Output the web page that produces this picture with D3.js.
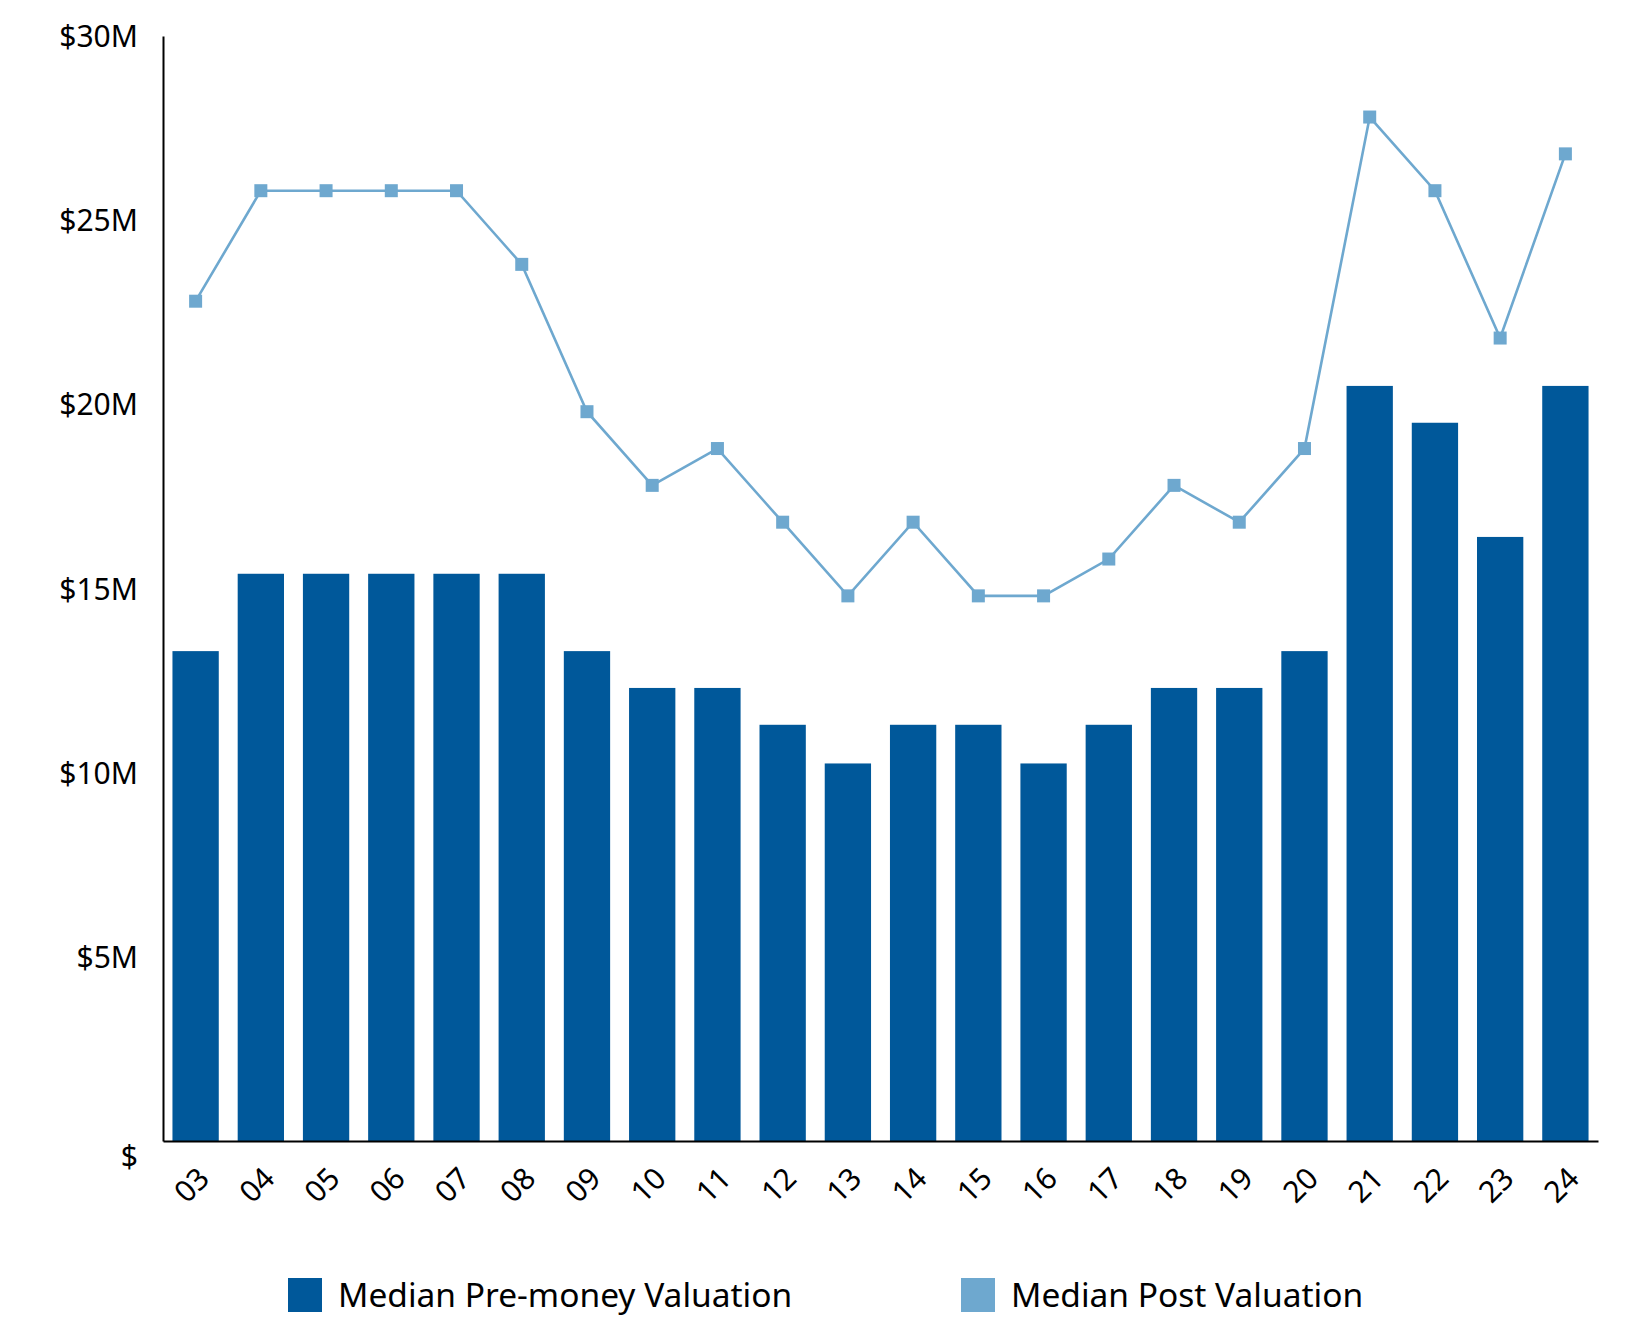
<!DOCTYPE html>
<html>
<head>
<meta charset="utf-8">
<script src="https://cdn.jsdelivr.net/npm/d3@7"></script>
<style>
  body { margin: 0; background: #fff; }
  text { font-family: "Noto Sans", "Open Sans", sans-serif; fill: #000; }
</style>
</head>
<body>
<script>
// values in $M
const years = ["03","04","05","06","07","08","09","10","11","12","13",
               "14","15","16","17","18","19","20","21","22","23","24"];
const preMoney = [13.3, 15.4, 15.4, 15.4, 15.4, 15.4, 13.3, 12.3, 12.3, 11.3, 10.25,
                  11.3, 11.3, 10.25, 11.3, 12.3, 12.3, 13.3, 20.5, 19.5, 16.4, 20.5];
const postValuation = [22.8, 25.8, 25.8, 25.8, 25.8, 23.8, 19.8, 17.8, 18.8, 16.8, 14.8,
                       16.8, 14.8, 14.8, 15.8, 17.8, 16.8, 18.8, 27.8, 25.8, 21.8, 26.8];
const yTicks = [0, 5, 10, 15, 20, 25, 30];
const yTickLabels = ["$", "$5M", "$10M", "$15M", "$20M", "$25M", "$30M"];
const seriesNames = ["Median Pre-money Valuation", "Median Post Valuation"];

const barColor = "#00589a";
const lineColor = "#6ea8cf";

const width = 1650, height = 1333;
const plotLeft = 163, plotRight = 1598, plotTop = 36, plotBottom = 1141;

const svg = d3.select("body").append("svg")
    .attr("width", width)
    .attr("height", height);

const x = d3.scaleBand()
    .domain(years)
    .range([plotLeft, plotRight])
    .paddingInner(0.29)
    .paddingOuter(0.145);

const y = d3.scaleLinear()
    .domain([0, 30])
    .range([plotBottom, plotTop]);

// bars
svg.append("g").selectAll("rect")
  .data(preMoney)
  .join("rect")
    .attr("x", (d, i) => x(years[i]))
    .attr("y", d => y(d))
    .attr("width", x.bandwidth())
    .attr("height", d => y(0) - y(d))
    .attr("fill", barColor);

// line + square markers
const line = d3.line()
    .x((d, i) => x(years[i]) + x.bandwidth() / 2)
    .y(d => y(d));

svg.append("path")
    .datum(postValuation)
    .attr("d", line)
    .attr("fill", "none")
    .attr("stroke", lineColor)
    .attr("stroke-width", 2.6);

const m = 13;
svg.append("g").selectAll("rect")
  .data(postValuation)
  .join("rect")
    .attr("x", (d, i) => x(years[i]) + x.bandwidth() / 2 - m / 2)
    .attr("y", d => y(d) - m / 2)
    .attr("width", m)
    .attr("height", m)
    .attr("fill", lineColor);

// y axis
const yAxis = svg.append("g")
    .attr("transform", `translate(${plotLeft},0)`)
    .call(d3.axisLeft(y)
        .tickValues(yTicks)
        .tickFormat((d, i) => yTickLabels[i])
        .tickSize(0)
        .tickPadding(25));
yAxis.select(".domain").attr("stroke", "#000").attr("stroke-width", 2);
yAxis.selectAll("text")
    .style("font-size", "30px")
    .attr("font-family", null)
    .attr("dy", d => d === 0 ? "0.85em" : "0.35em");

// x axis
const xAxis = svg.append("g")
    .attr("transform", `translate(0,${plotBottom})`)
    .call(d3.axisBottom(x).tickSize(0).tickSizeOuter(0));
xAxis.select(".domain").attr("stroke", "#000").attr("stroke-width", 2);
xAxis.selectAll("text")
    .style("font-size", "30px")
    .attr("font-family", null)
    .attr("y", 0)
    .attr("dy", "0.35em")
    .attr("text-anchor", "middle")
    .attr("transform", "translate(-4,44) rotate(-45)");

// legend
const legend = svg.append("g");
const legendX = [288, 961];
const legendColors = [barColor, lineColor];
seriesNames.forEach((name, i) => {
  const g = legend.append("g").attr("transform", `translate(${legendX[i]},1278)`);
  g.append("rect").attr("width", 34).attr("height", 34).attr("fill", legendColors[i]);
  g.append("text")
      .attr("x", 50)
      .attr("y", 17)
      .attr("dy", "0.35em")
      .style("font-size", "33.5px")
      .text(name);
});
</script>
</body>
</html>
